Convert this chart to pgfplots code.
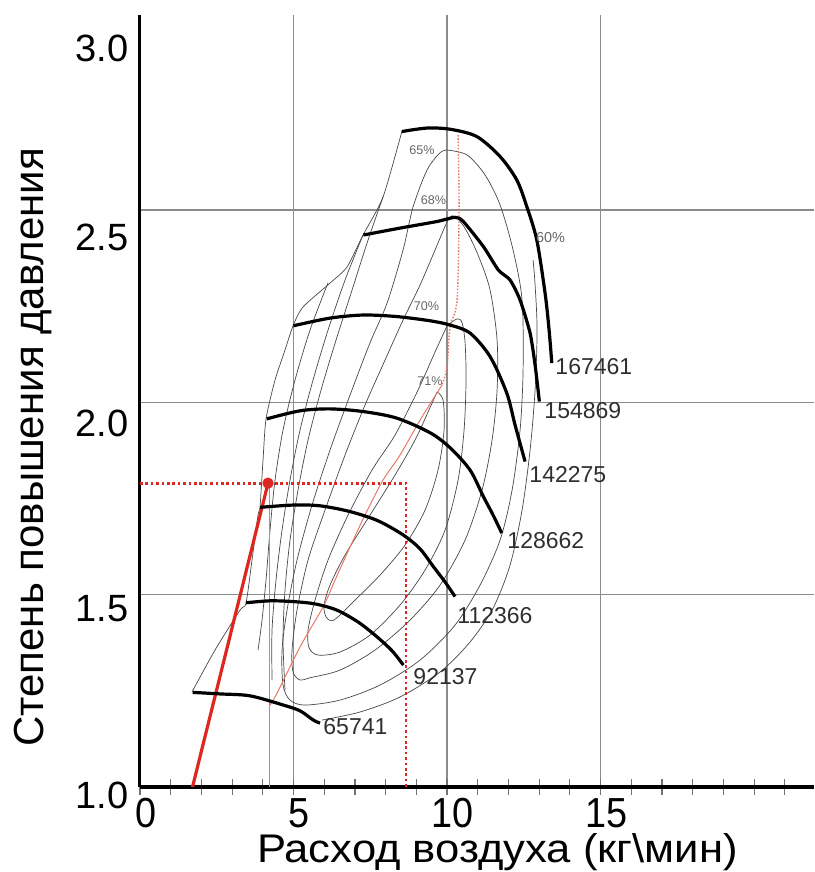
\documentclass[border=0pt]{standalone}
\usepackage{fontspec}
\setmainfont{Liberation Sans}
\newfontfamily\narrowfont{Liberation Sans}[FakeStretch=0.9]
\newfontfamily\xlabfont{Liberation Sans}[FakeStretch=1.09]
\usepackage{pgfplots}
\pgfplotsset{compat=1.18}
\definecolor{redline}{RGB}{220,40,32}
\definecolor{thinred}{RGB}{232,120,105}
\tikzset{
  thinc/.style={black!72, line width=0.35pt},
  speed/.style={black, line width=1.6pt},
  spdlab/.style={anchor=west, inner sep=0pt, text=black!82, font=\fontsize{11.5}{12}\selectfont},
  pctlab/.style={anchor=center, inner sep=0pt, text=black!60, font=\fontsize{6.3}{7}\selectfont}
}
\begin{document}
\begin{tikzpicture}
\begin{axis}[
  at={(0pt,0pt)}, anchor=south west,
  scale only axis, width=337pt, height=386pt,
  xmin=0, xmax=21.95, ymin=1, ymax=3.007,
  axis x line=bottom, axis y line=left,
  axis line style={-, line width=1.5pt},
  x axis line style={-, line width=2pt},
  no marks,
  xtick={0,5,10,15}, xticklabels={0,5,10,15},
  minor xtick={1,2,3,4,6,7,8,9,11,12,13,14,16,17,18,19,20,21},
  ytick={1,1.5,2,2.5},
  yticklabels={\smash{\raisebox{-10.8pt}{1.0}},\smash{\raisebox{-13.3pt}{1.5}},\smash{\raisebox{-17.3pt}{2.0}},\smash{\raisebox{-20.3pt}{2.5}}},
  extra y ticks={3},
  extra y tick labels={\smash{\raisebox{-21.8pt}{3.0}}},
  extra y tick style={grid=none},
  grid=major,
  major grid style={black!45, line width=0.6pt},
  tick align=center, major tick length=8pt, minor tick length=8pt,
  xtick style={black!55, line width=0.6pt},
  minor tick style={black!55, line width=0.6pt},
  ytick style={draw=none},
  xticklabel style={font=\narrowfont\fontsize{21}{21}\selectfont, anchor=north, inner sep=0pt, yshift=-1.5pt, xshift=2.8pt},
  yticklabel style={font=\fontsize{19}{19}\selectfont, anchor=east, inner sep=0pt, xshift=-1.5pt},
  xlabel={Расход воздуха (кг\textbackslash мин)},
  xlabel style={font=\xlabfont\fontsize{20}{22}\selectfont, at={(axis description cs:0.5304,-0.0972)}, anchor=base, inner sep=0pt},
  ylabel={Степень повышения давления},
  ylabel style={font=\fontsize{21}{23}\selectfont, at={(axis description cs:-0.158,0.44)}, anchor=center},
]
% surge line
\addplot[thinc, smooth, tension=0.4] coordinates {(1.694,1.247) (2.443,1.356) (3.258,1.460) (3.453,1.478) (3.648,1.590) (3.844,1.707) (3.909,1.728) (4.007,1.850) (4.104,1.957) (4.398,2.058) (4.723,2.136) (4.984,2.199) (5.310,2.248) (6.189,2.310) (6.743,2.352) (7.264,2.435) (7.916,2.534) (8.534,2.706)};
% extra diagonal lines
\addplot[thinc, smooth] coordinates {(6.124,2.311) (5.538,2.188) (5.049,2.058) (4.658,1.928) (4.398,1.798) (4.235,1.668) (4.104,1.538) (3.974,1.434) (3.844,1.356)};
\addplot[thinc, smooth] coordinates {(7.264,2.435) (6.678,2.318) (6.124,2.188) (5.635,2.058) (5.212,1.928) (4.886,1.798) (4.626,1.668) (4.430,1.538) (4.300,1.408) (4.300,1.278)};
\addplot[thinc, smooth] coordinates {(7.916,2.534) (7.427,2.422) (6.906,2.292) (6.385,2.162) (5.896,2.032) (5.473,1.902) (5.147,1.772) (4.886,1.642) (4.723,1.512) (4.658,1.382) (4.723,1.252)};
% efficiency 71
\addplot[thinc, smooth] coordinates {(9.675,2.027) (9.870,2.006) (9.903,1.928) (9.707,1.824) (9.284,1.720) (8.632,1.629) (7.818,1.551) (7.004,1.486) (6.515,1.447) (6.254,1.432) (6.059,1.442) (5.994,1.473) (6.189,1.525) (6.678,1.603) (7.492,1.707) (8.306,1.811) (8.958,1.902) (9.381,1.975) (9.675,2.027)};
% efficiency 70
\addplot[thinc, smooth] coordinates {(10.000,2.199) (10.326,2.217) (10.489,2.207) (10.587,2.155) (10.619,2.058) (10.554,1.928) (10.359,1.798) (9.935,1.668) (9.284,1.564) (8.469,1.473) (7.492,1.395) (6.515,1.351) (5.798,1.343) (5.505,1.362) (5.473,1.408) (5.701,1.486) (6.124,1.590) (6.776,1.707) (7.557,1.824) (8.306,1.915) (9.056,2.032) (9.609,2.131) (10.000,2.199)};
% efficiency 68
\addplot[thinc, smooth] coordinates {(10.163,2.485) (10.000,2.469) (9.609,2.396) (9.121,2.305) (8.567,2.214) (7.981,2.110) (7.329,1.993) (6.678,1.863) (6.026,1.720) (5.473,1.590) (5.114,1.460) (4.951,1.356) (4.984,1.299) (5.212,1.278) (5.538,1.284) (6.515,1.304) (7.655,1.356) (8.795,1.434) (9.772,1.525) (10.587,1.642) (11.140,1.772) (11.466,1.902) (11.629,2.032) (11.629,2.162) (11.401,2.292) (11.010,2.383) (10.619,2.448) (10.326,2.479) (10.163,2.485)};
% efficiency 65
\addplot[thinc, smooth] coordinates {(10.000,2.656) (9.772,2.649) (9.349,2.604) (8.893,2.508) (8.567,2.396) (8.046,2.258) (7.492,2.155) (6.841,2.019) (6.189,1.876) (5.603,1.733) (5.114,1.590) (4.789,1.460) (4.626,1.356) (4.658,1.265) (4.886,1.226) (5.375,1.213) (6.515,1.226) (7.818,1.265) (9.121,1.330) (10.261,1.421) (11.075,1.525) (11.727,1.642) (12.118,1.772) (12.378,1.928) (12.476,2.084) (12.443,2.266) (12.150,2.396) (11.727,2.513) (11.238,2.591) (10.652,2.643) (10.000,2.656)};
% efficiency 60 (outer)
\addplot[thinc, smooth] coordinates {(5.929,1.174) (7.166,1.195) (8.469,1.234) (9.772,1.299) (10.749,1.377) (11.499,1.465) (12.052,1.577) (12.443,1.720) (12.704,1.876) (12.867,2.032) (12.932,2.188) (12.867,2.305) (12.802,2.370)};
% red max-efficiency line
\addplot[thinred, line width=0.7pt, dash pattern=on 0.8pt off 0.8pt, smooth] coordinates {(10.359,2.695) (10.391,2.500) (10.326,2.266) (10.098,2.196) (10.000,2.092) (9.837,2.045)};
\addplot[thinred, line width=0.5pt, smooth] coordinates {(9.837,2.045) (9.121,1.954) (8.469,1.863) (7.916,1.798) (7.329,1.707) (6.841,1.624) (6.352,1.538) (5.961,1.468) (5.212,1.364) (4.463,1.244) (4.235,1.213)};
% red operating point construction
\addplot[thinred, line width=0.5pt] coordinates {(4.23,1.0) (4.23,1.79)};
\addplot[redline, line width=1.4pt, dash pattern=on 1.3pt off 1.4pt] coordinates {(0,1.79) (8.66,1.79) (8.66,1.0)};
\addplot[redline, line width=1.6pt] coordinates {(1.71,1.0) (4.17,1.79)};
\addplot[redline, only marks, mark=*, mark size=2.6pt] coordinates {(4.17,1.79)};
% speed lines
\addplot[speed, smooth] coordinates {(1.717,1.246) (2.606,1.242) (3.583,1.237) (4.668,1.213) (5.212,1.198) (5.645,1.174) (5.863,1.166)};
\addplot[speed, smooth] coordinates {(3.453,1.479) (4.235,1.484) (4.994,1.482) (5.701,1.476) (6.407,1.460) (7.101,1.429) (7.710,1.391) (8.209,1.354) (8.577,1.317)};
\addplot[speed, smooth] coordinates {(3.909,1.727) (4.994,1.733) (5.863,1.731) (6.841,1.716) (7.753,1.692) (8.577,1.655) (9.121,1.619) (9.554,1.573) (9.935,1.533) (10.261,1.495)};
\addplot[speed, smooth] coordinates {(4.127,1.957) (5.212,1.978) (6.189,1.983) (7.274,1.976) (8.362,1.959) (9.447,1.921) (10.098,1.882) (10.749,1.824) (11.183,1.755) (11.499,1.707) (11.782,1.660)};
\addplot[speed, smooth] coordinates {(4.994,2.199) (6.189,2.219) (7.274,2.227) (8.362,2.223) (9.447,2.212) (10.098,2.201) (10.749,2.180) (11.401,2.119) (11.945,2.024) (12.215,1.941) (12.541,1.846)};
\addplot[speed, smooth, tension=0.4] coordinates {(7.274,2.435) (8.469,2.453) (9.665,2.470) (10.261,2.481) (10.531,2.470) (11.183,2.405) (11.671,2.344) (12.052,2.318) (12.378,2.266) (12.704,2.180) (12.867,2.097) (13.007,2.002)};
\addplot[speed, smooth] coordinates {(8.525,2.704) (9.339,2.713) (10.098,2.710) (10.968,2.691) (11.727,2.639) (12.271,2.578) (12.596,2.509) (12.922,2.422) (13.192,2.284) (13.323,2.188) (13.411,2.102)};
% speed labels
\node[spdlab] at (axis cs:13.518,2.092) {167461};
\node[spdlab] at (axis cs:13.160,1.978) {154869};
\node[spdlab] at (axis cs:12.671,1.811) {142275};
\node[spdlab] at (axis cs:11.955,1.640) {128662};
\node[spdlab] at (axis cs:10.326,1.445) {112366};
\node[spdlab] at (axis cs:8.893,1.286) {92137};
\node[spdlab] at (axis cs:5.961,1.156) {65741};
% efficiency labels
\node[pctlab] at (axis cs:9.186,2.656) {65\%};
\node[pctlab] at (axis cs:9.561,2.526) {68\%};
\node[pctlab] at (axis cs:9.332,2.251) {70\%};
\node[pctlab] at (axis cs:9.447,2.054) {71\%};
\node[pctlab, font=\fontsize{7.2}{8}\selectfont] at (axis cs:13.372,2.428) {60\%};
\end{axis}
\pgfresetboundingbox
\path[use as bounding box] (-70pt,-42.5pt) rectangle (337pt,393.5pt);
\end{tikzpicture}
\end{document}
